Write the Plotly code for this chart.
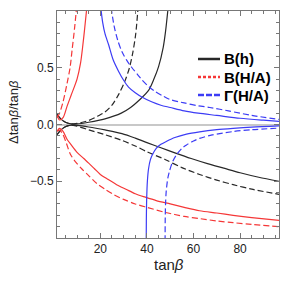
import plotly.graph_objects as go

# ---- data ----
bh_up_x = [1.4, 3, 5, 7.5, 10, 15, 22, 29, 33, 37, 40.7, 43, 45, 47, 48, 49.1]
bh_up_y = [0.09, 0.05, 0.02, 0.005, 0.005, 0.02, 0.05, 0.1, 0.15, 0.22, 0.3, 0.4, 0.51, 0.68, 0.82, 1.03]
bhd_up_x = [1.4, 3, 5, 7.5, 10, 15, 19, 22, 25, 28, 30.5, 32.5, 34, 35.2, 36.2]
bhd_up_y = [0.09, 0.05, 0.02, 0.005, 0.01, 0.035, 0.075, 0.11, 0.17, 0.27, 0.38, 0.5, 0.64, 0.8, 1.03]
bh_lo_x = [1.4, 3, 5, 7.5, 10, 15, 22, 29.3, 35, 40, 46, 52, 59, 66, 73, 80, 88, 96.7]
bh_lo_y = [-0.09, -0.05, -0.02, -0.005, -0.008, -0.022, -0.048, -0.08, -0.12, -0.16, -0.205, -0.25, -0.3, -0.345, -0.385, -0.425, -0.465, -0.5]
bhd_lo_x = [1.4, 3, 5, 7.5, 10, 15, 22, 29.3, 35, 40, 48, 55, 62.6, 70, 77, 85, 96.7]
bhd_lo_y = [-0.09, -0.05, -0.02, -0.005, -0.015, -0.047, -0.09, -0.14, -0.19, -0.24, -0.31, -0.38, -0.44, -0.49, -0.53, -0.57, -0.615]

ra_up_x = [1.4, 2.5, 4, 5.7, 7.5, 10, 11.5, 12.5, 13.3, 14.2]
ra_up_y = [0.08, 0.04, 0.06, 0.16, 0.26, 0.4, 0.54, 0.7, 0.85, 1.03]
rad_up_x = [1.4, 2.5, 4, 5.7, 7, 7.9, 8.9, 9.8]
rad_up_y = [0.06, 0.1, 0.2, 0.36, 0.5, 0.66, 0.84, 1.03]
ra_lo_x = [1.4, 2.5, 4, 5.7, 7.5, 10, 12.9, 15, 17.5, 20, 23, 27, 31, 35, 39.3, 44, 50, 56, 62.6, 70, 77, 85, 96.7]
ra_lo_y = [-0.06, -0.035, -0.06, -0.13, -0.18, -0.245, -0.3, -0.34, -0.39, -0.44, -0.48, -0.53, -0.57, -0.61, -0.64, -0.67, -0.7, -0.73, -0.76, -0.78, -0.8, -0.82, -0.845]
rad_lo_x = [1.4, 2.5, 4, 5.5, 7.1, 9, 12, 15, 18.5, 22, 26, 30, 35, 40, 48, 56, 63, 70, 77, 85, 96.7]
rad_lo_y = [-0.06, -0.05, -0.09, -0.17, -0.26, -0.32, -0.39, -0.45, -0.52, -0.57, -0.62, -0.66, -0.7, -0.73, -0.775, -0.81, -0.83, -0.85, -0.865, -0.88, -0.9]

ga_up_x = [20.2, 21, 22, 23.6, 25.5, 27.8, 30, 32.1, 35, 38, 42, 46, 50, 56, 62, 70, 80, 90, 96.7]
ga_up_y = [1.03, 0.9, 0.8, 0.7, 0.57, 0.47, 0.39, 0.33, 0.28, 0.24, 0.2, 0.17, 0.15, 0.12, 0.1, 0.08, 0.055, 0.038, 0.028]
gad_up_x = [24.6, 26, 27.5, 29.3, 31.5, 33.6, 36, 38, 41, 43.6, 47, 50, 56, 62, 67, 75, 85, 96.7]
gad_up_y = [1.03, 0.86, 0.74, 0.64, 0.56, 0.5, 0.44, 0.39, 0.33, 0.29, 0.25, 0.22, 0.19, 0.165, 0.15, 0.12, 0.08, 0.045]
ga_lo_x = [39.7, 39.75, 39.9, 40.2, 40.7, 41.5, 42.5, 44, 46, 48.3, 52, 57, 62.6, 70, 77, 85, 96.7]
ga_lo_y = [-1.03, -0.85, -0.65, -0.5, -0.39, -0.31, -0.26, -0.21, -0.175, -0.15, -0.115, -0.085, -0.065, -0.046, -0.034, -0.023, -0.012]
gad_lo_x = [47.8, 47.85, 48, 48.3, 49, 49.7, 51, 52.6, 55, 57, 60, 62.6, 68, 77, 85, 96.7]
gad_lo_y = [-1.03, -0.85, -0.7, -0.585, -0.47, -0.41, -0.33, -0.27, -0.21, -0.18, -0.145, -0.122, -0.092, -0.062, -0.046, -0.032]

x_ticks = [20, 40, 60, 80]
y_ticks = [-0.5, 0.0, 0.5]
y_ticktext = ["\u22120.5", "0.0", "0.5"]
legend_labels = ["B(h)", "B(H/A)", "\u0393(H/A)"]

BLACK = "rgb(40,40,40)"
RED = "rgb(245,55,55)"
BLUE = "rgb(60,60,245)"
DASH = "6px,3px"

fig = go.Figure()

def add(x, y, color, dash):
    fig.add_trace(go.Scatter(x=x, y=y, mode="lines", showlegend=False,
                             line=dict(color=color, width=1.2, dash=dash,
                                       shape="spline", smoothing=0.8),
                             hoverinfo="skip"))

add(bh_up_x, bh_up_y, BLACK, "solid")
add(bh_lo_x, bh_lo_y, BLACK, "solid")
add(bhd_up_x, bhd_up_y, BLACK, DASH)
add(bhd_lo_x, bhd_lo_y, BLACK, DASH)
add(ra_up_x, ra_up_y, RED, "solid")
add(ra_lo_x, ra_lo_y, RED, "solid")
add(rad_up_x, rad_up_y, RED, DASH)
add(rad_lo_x, rad_lo_y, RED, DASH)
add(ga_up_x, ga_up_y, BLUE, "solid")
add(ga_lo_x, ga_lo_y, BLUE, "solid")
add(gad_up_x, gad_up_y, BLUE, DASH)
add(gad_lo_x, gad_lo_y, BLUE, DASH)

FRAME = "#777777"
axis_common = dict(showline=True, linecolor=FRAME, linewidth=1, mirror="allticks",
                   ticks="inside", ticklen=5, tickcolor=FRAME, tickwidth=1,
                   showgrid=False,
                   tickfont=dict(family="Liberation Sans, Arial", size=12, color="#222"))

fig.update_xaxes(range=[1.4, 96.7], tickmode="array", tickvals=x_ticks,
                 minor=dict(ticks="inside", ticklen=3, dtick=5, tick0=0, tickcolor=FRAME),
                 zeroline=False, **axis_common)
fig.update_yaxes(range=[-1.0, 1.0], tickmode="array", tickvals=y_ticks, ticktext=y_ticktext,
                 minor=dict(ticks="inside", ticklen=3, dtick=0.1, tick0=0, tickcolor=FRAME),
                 zeroline=True, zerolinecolor="#c8c8c8", zerolinewidth=2, **axis_common)

L, R, T, B = 57, 5, 11, 46
W = H = 284
pw, ph = W - L - R, H - T - B

def px(xp):
    return (xp - L) / pw

def py(yp):
    return (H - B - yp) / ph

# legend drawn by hand
styles = [(BLACK, "solid"), (RED, "3px,2px"), (BLUE, "6px,2px")]
rows = [59, 77, 95]
for (c, d), r, lab in zip(styles, rows, legend_labels):
    fig.add_shape(type="line", xref="paper", yref="paper",
                  x0=px(198), x1=px(220), y0=py(r), y1=py(r),
                  line=dict(color=c, width=2.5, dash=d))
    fig.add_annotation(xref="paper", yref="paper", x=px(222), y=py(r),
                       text="<b>%s</b>" % lab, showarrow=False,
                       xanchor="left", yanchor="middle",
                       font=dict(family="Liberation Sans, Arial", size=15, color="black"))

# axis titles
fig.add_annotation(xref="paper", yref="paper", x=px(169), y=py(264),
                   text="tan<i>\u03b2</i>", showarrow=False,
                   xanchor="center", yanchor="middle",
                   font=dict(family="Liberation Sans, Arial", size=15, color="#222"))
fig.add_annotation(xref="paper", yref="paper", x=px(13), y=py(112),
                   text="\u0394tan<i>\u03b2</i>/tan<i>\u03b2</i>", showarrow=False,
                   textangle=-90, xanchor="center", yanchor="middle",
                   font=dict(family="Liberation Sans, Arial", size=13, color="#222"))

fig.update_layout(width=W, height=H, margin=dict(l=L, r=R, t=T, b=B),
                  paper_bgcolor="white", plot_bgcolor="white", showlegend=False)

fig.write_html("out.html", config={"displayModeBar": False},
               post_script="document.body.style.margin='0px';")
